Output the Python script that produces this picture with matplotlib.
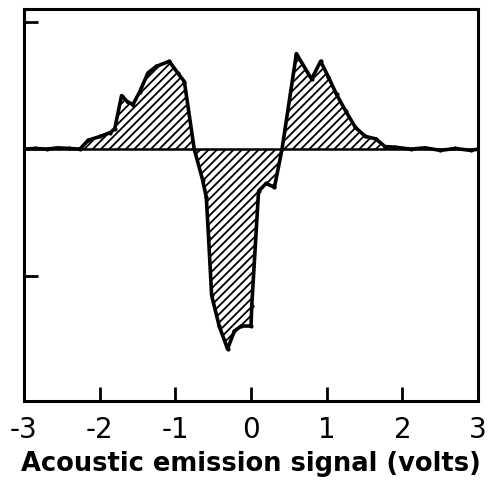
import numpy as np
import matplotlib
matplotlib.use("Agg")
import matplotlib.pyplot as plt

# signal (volts) vs amplitude
volts = [-3.0, -2.85, -2.7, -2.55, -2.4, -2.26, -2.15, -1.99, -1.86, -1.8,
         -1.71, -1.63, -1.56, -1.47, -1.36, -1.25, -1.08, -0.97, -0.88,
         -0.75, -0.64, -0.59, -0.56, -0.52, -0.42, -0.31, -0.22, -0.13,
         0.0, 0.01, 0.10, 0.20, 0.31, 0.41, 0.60, 0.80, 0.92, 1.02, 1.13,
         1.25, 1.38, 1.51, 1.65, 1.77, 1.90, 2.11, 2.3, 2.5, 2.7, 2.9, 3.0]
signal = [0.0, 0.005, 0.0, 0.01, 0.005, 0.0, 0.07, 0.10, 0.13, 0.16,
          0.42, 0.37, 0.35, 0.45, 0.60, 0.65, 0.69, 0.60, 0.53,
          0.0, -0.24, -0.38, -0.70, -1.15, -1.39, -1.57, -1.43, -1.39,
          -1.39, -1.23, -0.33, -0.27, -0.30, 0.0, 0.75, 0.55, 0.69, 0.57, 0.43,
          0.30, 0.17, 0.10, 0.08, 0.02, 0.015, 0.0, 0.01, -0.01, 0.005, -0.01, 0.0]

xticks = [-3, -2, -1, 0, 1, 2, 3]
xticklabels = ["-3", "-2", "-1", "0", "1", "2", "3"]

plt.rcParams['hatch.linewidth'] = 1.3

fig = plt.figure(figsize=(4.98, 4.81), dpi=100)
ax = fig.add_axes([0.048, 0.164, 0.912, 0.815])

x = np.array(volts)
y = np.array(signal)
ax.fill_between(x, y, 0, facecolor='white', edgecolor='black',
                hatch='////', linewidth=0)
ax.plot(x, y, color='black', linewidth=2.6, marker='o', markersize=2)
ax.axhline(0, color='black', linewidth=1.8)

ax.set_xlim(-3, 3)
ax.set_ylim(-1.98, 1.1)
ax.set_xticks(xticks)
ax.set_xticklabels(xticklabels, fontsize=20)
ax.set_yticks([-1, 1])
ax.set_yticklabels([])
ax.tick_params(axis='both', direction='in', length=10, width=2, pad=10)
for s in ax.spines.values():
    s.set_linewidth(2.2)
ax.set_xlabel("Acoustic emission signal (volts)", fontsize=18.5,
              fontweight='bold', labelpad=5)

fig.savefig("out.png", dpi=100)
